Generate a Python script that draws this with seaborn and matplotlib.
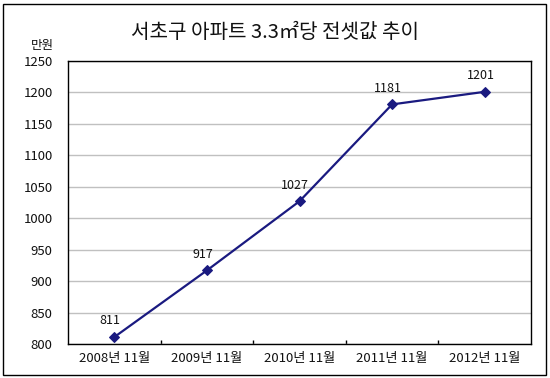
import matplotlib
matplotlib.use("Agg")
import matplotlib.pyplot as plt
import seaborn as sns
import pandas as pd
from matplotlib.patches import Rectangle
from matplotlib.ticker import FixedLocator

categories = ["2008년 11월", "2009년 11월", "2010년 11월", "2011년 11월", "2012년 11월"]
values = [811, 917, 1027, 1181, 1201]
yticks = [800, 850, 900, 950, 1000, 1050, 1100, 1150, 1200, 1250]

sns.set_theme(style="white")
plt.rcParams['font.family'] = ['Noto Sans CJK KR', 'DejaVu Sans']

df = pd.DataFrame({"x": range(len(categories)), "v": values})

fig = plt.figure(figsize=(5.5, 3.78), dpi=100)
ax = fig.add_axes([68/550, 1-344/378, (531-68)/550, (344-61)/378])

sns.lineplot(data=df, x="x", y="v", ax=ax, color="#1a1a80", lw=1.6,
             marker="D", markersize=5, markeredgecolor="#1a1a80", zorder=3)

for i, v in enumerate(values):
    ax.annotate(str(v), (i, v), xytext=(-3, 7), textcoords="offset points",
                ha="center", va="bottom", fontsize=9, color="#111111")

ax.set_xlim(-0.5, len(categories) - 0.5)
ax.set_ylim(800, 1250)
ax.set_yticks(yticks)
ax.set_yticklabels([str(t) for t in yticks], fontsize=9.5, color="#111111")
ax.set_xticks(range(len(categories)))
ax.set_xticklabels(categories, fontsize=9.5, color="#111111")
ax.xaxis.set_minor_locator(FixedLocator([i + 0.5 for i in range(len(categories) - 1)]))
ax.tick_params(axis="x", which="major", length=0, pad=6)
ax.tick_params(axis="x", which="minor", length=3, direction="in", color="black", width=1, bottom=True)
ax.tick_params(axis="y", length=0, pad=11)
ax.yaxis.grid(True, color="#c0c0c0", lw=1)
ax.set_axisbelow(True)
for s in ax.spines.values():
    s.set_color("black")
    s.set_linewidth(1)
ax.set_xlabel("")
ax.set_ylabel("")

fig.text(0.5, 1 - 32/378, "서초구 아파트 3.3㎡당 전셋값 추이", ha="center", va="center", fontsize=14.5, color="#111111")
fig.text(42/550, 1 - 45/378, "만원", ha="center", va="center", fontsize=9, color="#111111")

fig.patches.append(Rectangle((3/550, 3/378), 543/550, 371/378, transform=fig.transFigure,
                             fill=False, edgecolor="black", lw=1))

fig.savefig("out.png", dpi=100)
